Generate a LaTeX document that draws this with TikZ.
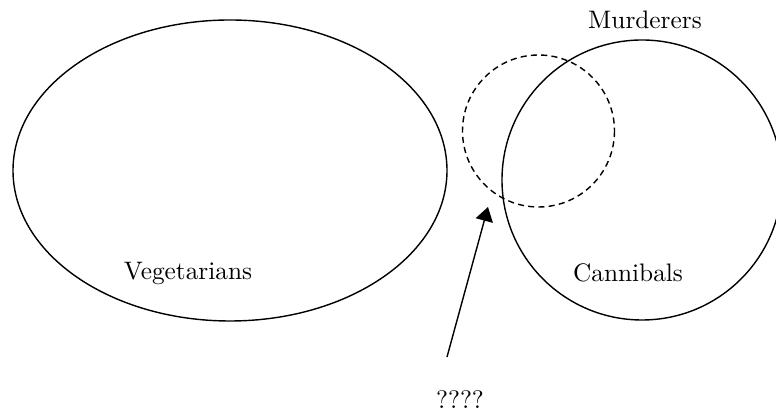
\documentclass[tikz,border=0pt]{standalone}
\usetikzlibrary{arrows.meta}

\begin{document}
\begin{tikzpicture}[x=0.015cm,y=-0.015cm, line width=0.6pt,
    every node/.style={font=\fontsize{10.8}{13}\selectfont}]
  \useasboundingbox (0,0) rectangle (776,416);
  \clip (0,0) rectangle (776,416);

  % Vegetarians
  \draw (230,170.5) ellipse [x radius=217, y radius=150.5];
  \node (veg) at (188,273) {Vegetarians};

  % Cannibals and murderers
  \draw (642,180) circle [radius=140];
  \node (can) at (628,273) {Cannibals};
  \node (mur) at (645,20) {Murderers};

  % The unknown set
  \draw[dash pattern=on 2.6pt off 1.8pt] (538.5,131) circle [radius=76];

  % Arrow
  \node (qq) at (460,400) {????};
  \coordinate (qtail) at (447,357);
  \coordinate (qtip) at (488,207);
  \draw[-{Triangle[length=6pt,width=7.5pt]}] (qtail) -- (qtip);
\end{tikzpicture}
\end{document}
